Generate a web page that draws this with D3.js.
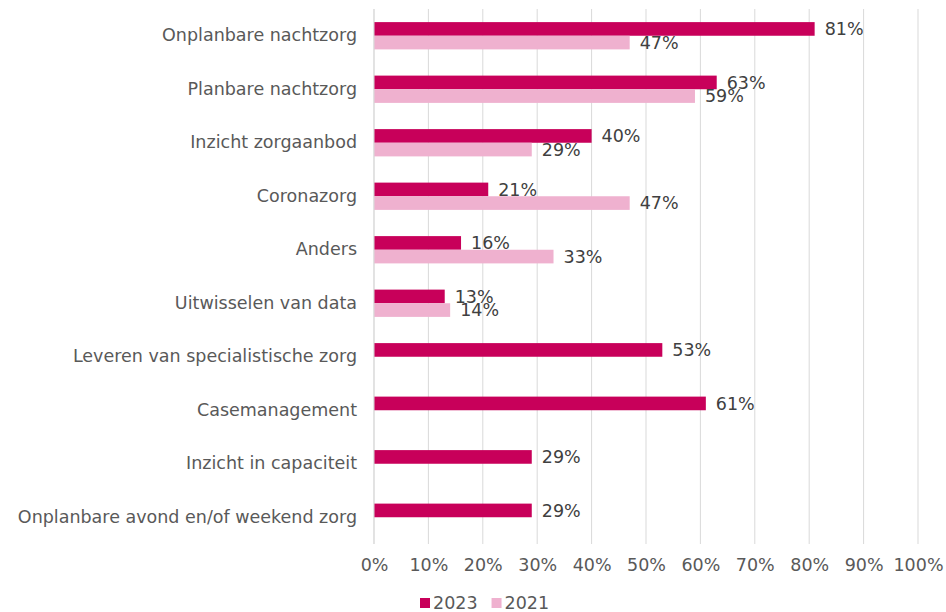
<!DOCTYPE html>
<html>
<head>
<meta charset="utf-8">
<script src="https://cdn.jsdelivr.net/npm/d3@7"></script>
<style>
  html, body { margin: 0; padding: 0; background: #fff; }
  svg { display: block; font-family: "DejaVu Sans", Verdana, sans-serif; }
</style>
</head>
<body>
<div id="chart"></div>
<script>
const CATEGORIES = [
  "Onplanbare nachtzorg",
  "Planbare nachtzorg",
  "Inzicht zorgaanbod",
  "Coronazorg",
  "Anders",
  "Uitwisselen van data",
  "Leveren van specialistische zorg",
  "Casemanagement",
  "Inzicht in capaciteit",
  "Onplanbare avond en/of weekend zorg"
];
const VALUES_2023 = [81, 63, 40, 21, 16, 13, 53, 61, 29, 29];
const VALUES_2021 = [47, 59, 29, 47, 33, 14, null, null, null, null];
const SERIES = ["2023", "2021"];
const X_TICKS = [0, 10, 20, 30, 40, 50, 60, 70, 80, 90, 100];

const COLORS = { "2023": "#c8005a", "2021": "#efb1cf" };
const FONT_SIZE = 17.5;

const width = 946;
const height = 612;
const margin = { top: 9, right: 28, bottom: 68, left: 374 };
const innerW = width - margin.left - margin.right;
const innerH = height - margin.top - margin.bottom;

const svg = d3.select("#chart").append("svg")
  .attr("width", width).attr("height", height);

const x = d3.scaleLinear().domain([0, 100]).range([margin.left, margin.left + innerW]);
const y = d3.scaleBand().domain(CATEGORIES).range([margin.top, margin.top + innerH]).paddingInner(0.49).paddingOuter(0.245);
const ySub = d3.scaleBand().domain(SERIES).range([0, y.bandwidth()]);

// gridlines
svg.append("g").selectAll("line")
  .data(X_TICKS)
  .join("line")
  .attr("x1", (d) => x(d)).attr("x2", (d) => x(d))
  .attr("y1", margin.top).attr("y2", margin.top + innerH)
  .attr("stroke", "#d9d9d9").attr("stroke-width", 1);

// x axis labels
const xAxis = d3.axisBottom(x).tickValues(X_TICKS).tickFormat((d) => `${d}%`).tickSize(0).tickPadding(15);
svg.append("g")
  .attr("transform", `translate(0, ${margin.top + innerH})`)
  .call(xAxis)
  .attr("font-family", null).attr("font-size", FONT_SIZE)
  .call((g) => g.select(".domain").remove())
  .call((g) => g.selectAll("text").attr("fill", "#595959"));

// y axis labels
const yAxis = d3.axisLeft(y).tickSize(0).tickPadding(17);
svg.append("g")
  .attr("transform", `translate(${margin.left}, 0)`)
  .call(yAxis)
  .attr("font-family", null).attr("font-size", FONT_SIZE)
  .call((g) => g.select(".domain").remove())
  .call((g) => g.selectAll("text").attr("fill", "#595959"));

const rows = [];
CATEGORIES.forEach((cat, i) => {
  rows.push({ cat, series: "2023", value: VALUES_2023[i] });
  if (VALUES_2021[i] != null) rows.push({ cat, series: "2021", value: VALUES_2021[i] });
});

svg.append("g").selectAll("rect")
  .data(rows)
  .join("rect")
  .attr("x", x(0))
  .attr("y", (d) => y(d.cat) + ySub(d.series))
  .attr("width", (d) => x(d.value) - x(0))
  .attr("height", ySub.bandwidth())
  .attr("fill", (d) => COLORS[d.series]);

svg.append("g").selectAll("text")
  .data(rows)
  .join("text")
  .attr("x", (d) => x(d.value) + 10)
  .attr("y", (d) => y(d.cat) + ySub(d.series) + ySub.bandwidth() / 2)
  .attr("dy", "0.36em")
  .attr("fill", "#404040")
  .attr("font-size", FONT_SIZE)
  .text((d) => `${d.value}%`);

// the vertical axis line sits over the bars' left edge
svg.append("line")
  .attr("x1", x(0)).attr("x2", x(0))
  .attr("y1", margin.top).attr("y2", margin.top + innerH)
  .attr("stroke", "#d9d9d9");

// legend
const legend = svg.append("g").attr("transform", "translate(420, 603)");
let lx = 0;
SERIES.forEach((s) => {
  const item = legend.append("g").attr("transform", `translate(${lx}, 0)`);
  item.append("rect").attr("x", 0).attr("y", -5).attr("width", 10).attr("height", 10).attr("fill", COLORS[s]);
  const t = item.append("text").attr("x", 13).attr("y", 0).attr("dy", "0.36em")
    .attr("fill", "#595959").attr("font-size", FONT_SIZE).text(s);
  lx += 13 + t.node().getComputedTextLength() + 14;
});
</script>
</body>
</html>
